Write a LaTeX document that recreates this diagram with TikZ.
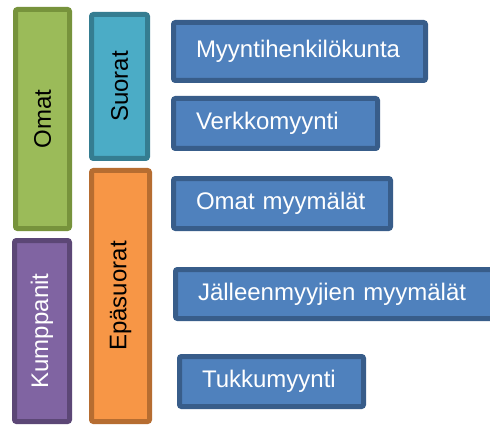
\documentclass[tikz,border=0pt]{standalone}
\usepackage{fontspec}
\setmainfont{Liberation Sans}
\definecolor{gfill}{HTML}{9BBB59}\definecolor{gline}{HTML}{77933C}
\definecolor{cfill}{HTML}{4BACC6}\definecolor{cline}{HTML}{357D91}
\definecolor{ofill}{HTML}{F79646}\definecolor{oline}{HTML}{B66D31}
\definecolor{pfill}{HTML}{8064A2}\definecolor{pline}{HTML}{5C4776}
\definecolor{bfill}{HTML}{4F81BD}\definecolor{bline}{HTML}{385D8A}
\begin{document}
\begin{tikzpicture}[x=1pt,y=-1pt,
  base/.style={draw, line width=5pt, rounded corners=2pt, inner sep=0pt,
    font=\fontsize{24}{28}\selectfont},
  vbox/.style={base, rotate=90, text=black},
  hbox/.style={base, fill=bfill, draw=bline, text=white, inner xsep=22.5pt, align=left,
    text height=17.5pt, text depth=5pt}]
\clip (0,0) rectangle (490,425);
\fill[white] (0,0) rectangle (490,425);
% left column
\node[vbox, fill=gfill, draw=gline, minimum width=219pt, minimum height=54pt] (omat) at (42.5,119) {Omat};
\node[vbox, fill=pfill, draw=pline, text=white, minimum width=181pt, minimum height=55pt] (kump) at (42,331) {Kumppanit};
% middle column
\node[vbox, fill=cfill, draw=cline, minimum width=144pt, minimum height=56pt] (suor) at (119.5,86.5) {Suorat};
\node[vbox, fill=ofill, draw=oline, minimum width=251pt, minimum height=58pt] (epas) at (120.5,296) {Epäsuorat};
% right column
\node[hbox, minimum height=58pt, text width=207pt] (myy) at (299.5,51.5) {Myyntihenkilökunta};
\node[hbox, minimum height=50pt, text width=159pt] (verk) at (275.5,123.5) {Verkkomyynti};
\node[hbox, minimum height=50pt, text width=172pt] (omm) at (282,203.5) {Omat myymälät};
\node[hbox, minimum height=49pt, text width=277pt] (jall) at (336.5,294) {Jälleenmyyjien myymälät};
\node[hbox, minimum height=50pt, text width=139pt] (tukk) at (271.5,381.5) {Tukkumyynti};
\end{tikzpicture}
\end{document}
